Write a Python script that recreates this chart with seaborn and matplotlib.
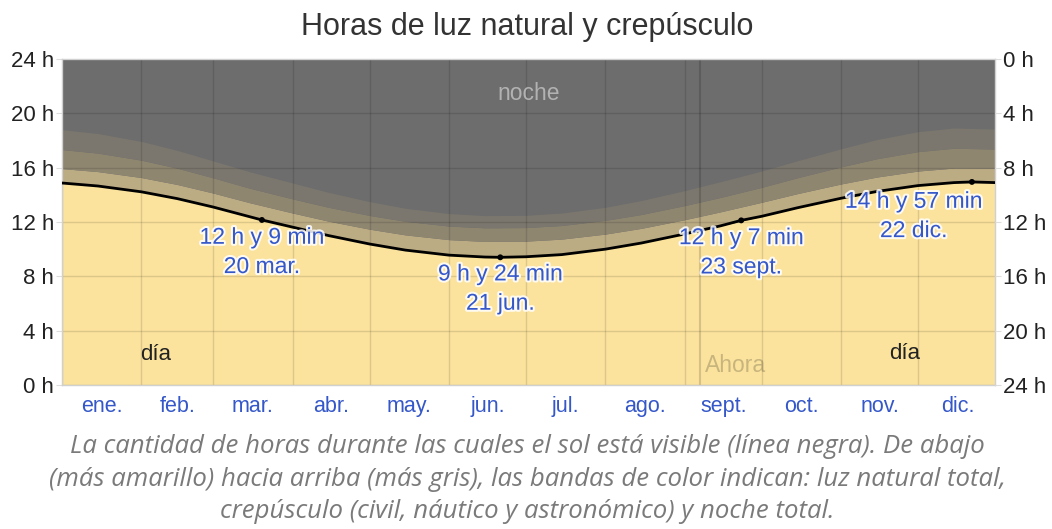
import pandas as pd
import matplotlib.pyplot as plt
import matplotlib.patheffects as pe
import seaborn as sns

# fechas de muestreo (mm-dd) y horas
fechas = ["01-01", "01-15", "02-01", "02-15", "03-01", "03-15", "04-01", "04-15",
          "05-01", "05-15", "06-01", "06-15", "07-01", "07-15", "08-01", "08-15",
          "09-01", "09-15", "10-01", "10-15", "11-01", "11-15", "12-01", "12-15", "12-31"]
luz_dia = [14.87, 14.65, 14.22, 13.72, 13.10, 12.40, 11.62, 11.00,
           10.38, 9.93, 9.56, 9.42, 9.44, 9.60, 10.00, 10.45,
           11.12, 11.72, 12.42, 13.05, 13.75, 14.25, 14.68, 14.90, 14.90]
civil = [1.06, 1.06, 1.05, 1.04, 1.03, 1.03, 1.04, 1.06, 1.09, 1.12, 1.14, 1.15, 1.15,
         1.14, 1.11, 1.08, 1.05, 1.03, 1.03, 1.04, 1.05, 1.06, 1.07, 1.07, 1.06]
nautico = [1.40, 1.36, 1.28, 1.20, 1.12, 1.07, 1.04, 1.02, 1.01, 1.00, 1.00, 1.00, 1.00,
           1.00, 1.01, 1.02, 1.04, 1.06, 1.10, 1.17, 1.26, 1.35, 1.43, 1.46, 1.41]
astronomico = [1.47, 1.44, 1.38, 1.31, 1.25, 1.21, 1.17, 1.10, 1.02, 0.96, 0.92, 0.90, 0.90,
               0.92, 0.96, 1.03, 1.10, 1.16, 1.20, 1.25, 1.33, 1.41, 1.47, 1.49, 1.47]

eventos_fecha = ["03-20", "06-21", "09-23", "12-22"]
eventos_horas = [12.15, 9.40, 12.12, 14.95]
eventos_texto = ["12 h y 9 min\n20 mar.", "9 h y 24 min\n21 jun.",
                 "12 h y 7 min\n23 sept.", "14 h y 57 min\n22 dic."]

meses = ["ene.", "feb.", "mar.", "abr.", "may.", "jun.",
         "jul.", "ago.", "sept.", "oct.", "nov.", "dic."]
horas_ticks = [0, 4, 8, 12, 16, 20, 24]
ahora_fecha = "09-07"

titulo = "Horas de luz natural y crepúsculo"
pie = ("La cantidad de horas durante las cuales el sol está visible (línea negra). De abajo\n"
       "(más amarillo) hacia arriba (más gris), las bandas de color indican: luz natural total,\n"
       "crepúsculo (civil, náutico y astronómico) y noche total.")


def dia_del_anio(mmdd):
    return pd.to_datetime(["2023-" + s for s in mmdd]).dayofyear - 1


df = pd.DataFrame({"x": dia_del_anio(fechas), "dia": luz_dia})
df["civil"] = df["dia"] + civil
df["nautico"] = df["civil"] + nautico
df["astro"] = df["nautico"] + astronomico

ev = pd.DataFrame({"x": dia_del_anio(eventos_fecha), "dia": eventos_horas})
linea = pd.concat([df[["x", "dia"]], ev]).sort_values("x")

inicio_mes = pd.date_range("2023-01-01", periods=12, freq="MS")
x_inicio = inicio_mes.dayofyear - 1
x_medio = x_inicio + inicio_mes.days_in_month / 2

sns.set_style("white")
plt.rcParams["font.family"] = ["Liberation Sans", "DejaVu Sans"]

azul = "#3457c9"
fig = plt.figure(figsize=(10.52, 5.29), dpi=100)
ax = fig.add_axes([0.0589, 0.2722, 0.8869, 0.6163])
ax.set_facecolor("#6d6d6d")

ax.fill_between(df["x"], 0, df["dia"], color="#fbe39d", lw=0)
ax.fill_between(df["x"], df["dia"], df["civil"], color="#bcac84", lw=0)
ax.fill_between(df["x"], df["civil"], df["nautico"], color="#8f8670", lw=0)
ax.fill_between(df["x"], df["nautico"], df["astro"], color="#7b776e", lw=0)

sns.lineplot(data=linea, x="x", y="dia", color="black", lw=2, ax=ax, zorder=3)
sns.scatterplot(data=ev, x="x", y="dia", color="black", s=18, ax=ax, zorder=4,
                edgecolor="none")

ax.axvline(dia_del_anio([ahora_fecha])[0], color="black", alpha=0.15, lw=1.5, zorder=2)

ax.set_xlim(0, 364)
ax.set_ylim(0, 24)
ax.set_xticks(x_medio)
ax.set_xticklabels(meses, color=azul, fontsize=15.5)
ax.set_xticks(x_inicio, minor=True)
ax.set_yticks(horas_ticks)
ax.set_yticklabels([f"{h} h" for h in horas_ticks], fontsize=16, color="#222222")
ax.tick_params(axis="x", which="major", length=0, pad=8)
ax.tick_params(axis="x", which="minor", length=10, color="#dddddd", width=1)
ax.tick_params(axis="y", length=4, color="#dddddd", pad=1.5)
ax.set_axisbelow("line")
ax.grid(which="minor", axis="x", color="black", alpha=0.12, lw=1)
ax.grid(which="major", axis="y", color="black", alpha=0.12, lw=1)
ax.set_xlabel("")
ax.set_ylabel("")
for s in ax.spines.values():
    s.set_color("#d0d0d0")
    s.set_linewidth(1)

ax2 = ax.twinx()
ax2.set_ylim(24, 0)
ax2.set_yticks(horas_ticks)
ax2.set_yticklabels([f"{h} h" for h in horas_ticks], fontsize=16, color="#222222")
ax2.tick_params(axis="y", length=4, color="#dddddd", pad=1.5)
for s in ax2.spines.values():
    s.set_visible(False)

halo = [pe.withStroke(linewidth=3, foreground="white", alpha=0.85)]
# desplazamientos de las etiquetas en puntos (1 pt = 1.39 px a 100 dpi)
desplaz = [(0, -23), (0, -22.5), (0, -23), (-42, -24.5)]
for (x, y), txt, d in zip(ev[["x", "dia"]].values, eventos_texto, desplaz):
    ax.annotate(txt, (x, y), xytext=d, textcoords="offset points", ha="center",
                va="center", fontsize=16.5, color=azul, linespacing=1.35,
                path_effects=halo, zorder=5)

ax.text(0.5, 0.895, "noche", transform=ax.transAxes, ha="center", va="center",
        fontsize=16.5, color="#b2b2b2")
ax.text(0.10, 0.095, "día", transform=ax.transAxes, ha="center", va="center",
        fontsize=16, color="#222222")
ax.text(0.903, 0.098, "día", transform=ax.transAxes, ha="center", va="center",
        fontsize=16, color="#222222")
ax.text(0.722, 0.06, "Ahora", transform=ax.transAxes, ha="center", va="center",
        fontsize=16.5, color="black", alpha=0.2)

fig.text(0.5015, 0.949, titulo, ha="center", va="center", fontsize=22, color="#333333")
fig.text(0.5015, 0.0945, pie, ha="center", va="center", fontsize=18.5, color="#7a7a7a",
         style="italic", family="Open Sans", linespacing=1.42)

fig.savefig("out.png", dpi=100)
